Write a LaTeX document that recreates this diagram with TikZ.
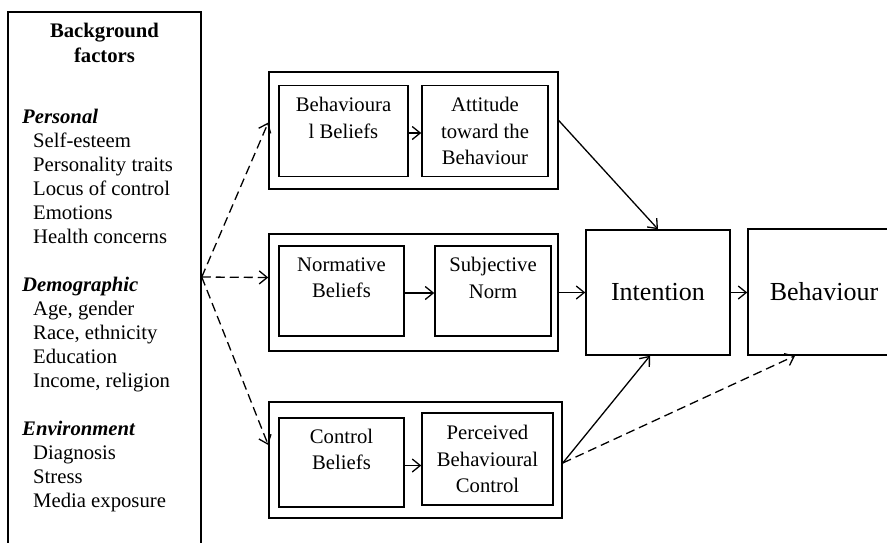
\documentclass[tikz,border=0pt]{standalone}
\usepackage{fontspec}
\setmainfont{Liberation Serif}
\usetikzlibrary{arrows.meta, positioning}

\begin{document}
\begin{tikzpicture}[x=1pt, y=-1pt, >={Straight Barb[length=8pt,width=13pt]},
  font=\fontsize{20.7}{24}\selectfont,
  frame/.style = {draw, line width=1.5pt, inner sep=0pt},
  grp/.style   = {frame, minimum height=117pt},
  inbox/.style = {frame, align=center, font=\fontsize{20.7}{26.5}\selectfont},
  big/.style   = {frame, font=\fontsize{26}{30}\selectfont},
  link/.style  = {->, line width=1.3pt},
  dlink/.style = {link, dash pattern=on 9pt off 5pt}
]
  \useasboundingbox (0,0) rectangle (887,542);
  \clip (0,0) rectangle (887,542);

  %% background factors
  \node[frame, minimum width=193pt, minimum height=545pt] (bg) at (104.5,284.5) {};
  \node[inner sep=0pt, anchor=north, align=center,
        font=\bfseries\fontsize{20.7}{25}\selectfont] (bgtitle) at (104.5,23)
        {Background\\factors};
  \node[inner sep=0pt, anchor=north west, align=left] (bglist) at (22,109)
        {\textbf{\textit{Personal}}\\
         \hspace*{11pt}Self-esteem\\
         \hspace*{11pt}Personality traits\\
         \hspace*{11pt}Locus of control\\
         \hspace*{11pt}Emotions\\
         \hspace*{11pt}Health concerns\\[24pt]
         \textbf{\textit{Demographic}}\\
         \hspace*{11pt}Age, gender\\
         \hspace*{11pt}Race, ethnicity\\
         \hspace*{11pt}Education\\
         \hspace*{11pt}Income, religion\\[24pt]
         \textbf{\textit{Environment}}\\
         \hspace*{11pt}Diagnosis\\
         \hspace*{11pt}Stress\\
         \hspace*{11pt}Media exposure};
  \coordinate (fan) at ([yshift=7.5pt]bg.east);

  %% belief groups (empty third line keeps text at the top)
  \node[grp, minimum width=289pt] (topgrp) at (413.5,130.5) {};
  \node[inbox, minimum width=129pt, minimum height=91pt] (bb)  at (343.5,131) {Behavioura\\l Beliefs\\\mbox{}};
  \node[inbox, minimum width=126pt, minimum height=91pt] (att) at (485,131) {Attitude\\toward the\\Behaviour};

  \node[grp, minimum width=289pt] (midgrp) at (413.5,292.5) {};
  \node[inbox, minimum width=125pt, minimum height=90pt] (nb)   at (341.5,291) {Normative\\Beliefs\\\mbox{}};
  \node[inbox, minimum width=116pt, minimum height=90pt] (subj) at (493,291) {Subjective\\Norm\\\mbox{}};

  \node[grp, minimum width=293pt, minimum height=116pt] (botgrp) at (415.5,460) {};
  \node[inbox, minimum width=125pt, minimum height=89pt] (cb)  at (341.5,462.5) {Control\\Beliefs\\\mbox{}};
  \node[inbox, minimum width=131pt, minimum height=92pt] (pbc) at (487.5,459) {Perceived\\Behavioural\\Control};

  %% outcome
  \node[big, minimum width=144pt, minimum height=125pt] (intent) at (658,292.5) {Intention};
  \node[big, minimum width=152pt, minimum height=126pt] (beh)    at (824,292) {Behaviour};

  %% inner links
  \draw[link] ([yshift=-2pt]bb.east) -- ([yshift=-2pt]bb.east -| att.west);
  \draw[link] ([yshift=-2pt]nb.east) -- ([yshift=-2pt]nb.east -| subj.west);
  \draw[link] ([yshift=-3pt]cb.east) -- ([yshift=-3pt]cb.east -| pbc.west);

  %% from background factors
  \draw[dlink] (fan) -- ([yshift=8pt]topgrp.west);
  \draw[dlink] (fan) -- ([yshift=15pt]midgrp.west);
  \draw[dlink] (fan) -- ([yshift=15pt]botgrp.west);

  %% to intention and behaviour
  \draw[link] ([yshift=10pt]topgrp.east) -- (intent.north);
  \draw[link] (midgrp) -- (intent);
  \draw[link] (intent.east) -- (intent.east -| beh.west);
  \draw[link] ([yshift=-3pt]botgrp.east) -- ([xshift=-8pt]intent.south);
  \draw[dlink] ([yshift=-3pt]botgrp.east) -- ([xshift=-29pt]beh.south);
\end{tikzpicture}
\end{document}
